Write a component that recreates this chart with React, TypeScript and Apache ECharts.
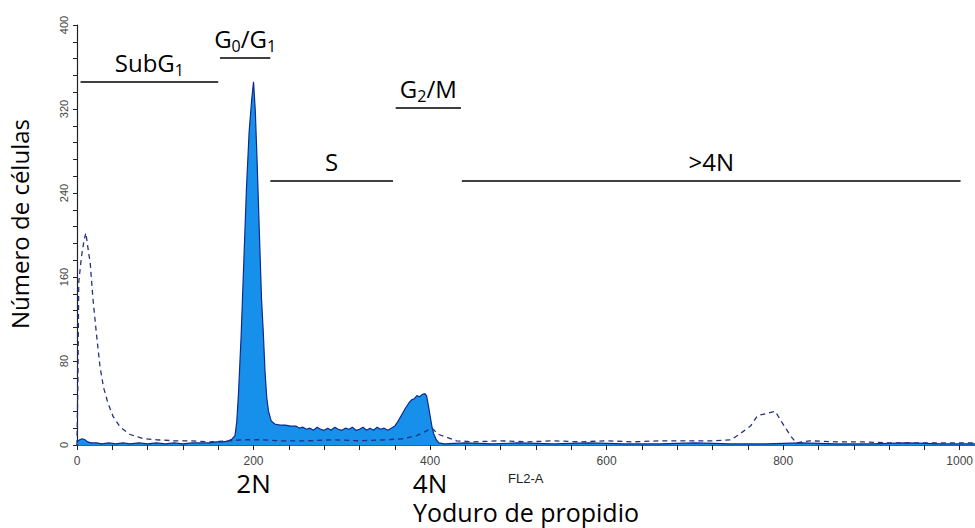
import React, { useEffect, useRef } from 'react';
import * as echarts from 'echarts';

// FL2-A channel ticks (x) and count ticks (y)
const channelLabelTicks = [0, 200, 400, 600, 800, 1000];
const ploidyNames: Record<number, string> = { 200: '2N', 400: '4N' };
const countLabelTicks = [0, 80, 160, 240, 320, 400];

// Treated sample (filled histogram): [FL2-A channel, number of cells]
const treatedHistogram: [number, number][] = [
  [0, 3], [3, 5], [6, 6], [9, 5], [12, 3], [16, 2], [22, 2], [28, 1], [36, 2], [44, 1],
  [52, 2], [60, 1], [70, 2], [80, 1], [90, 2], [100, 1], [110, 2], [120, 1], [130, 2],
  [140, 2], [150, 2], [158, 3], [166, 3], [172, 4], [176, 6], [179, 9], [181, 22],
  [183, 50], [186, 105], [189, 175], [192, 245], [195, 298], [198, 330], [200, 346],
  [202, 318], [204, 271], [207, 192], [209, 140], [211, 108], [213, 70], [215, 45],
  [217, 32], [220, 23], [224, 20], [230, 19], [236, 19], [242, 18], [248, 18], [252, 16],
  [256, 17], [260, 15], [264, 16], [268, 14], [272, 17], [276, 15], [280, 14], [284, 16],
  [288, 14], [292, 17], [296, 15], [300, 14], [304, 16], [308, 15], [312, 17], [316, 14],
  [320, 15], [324, 17], [328, 14], [332, 16], [336, 14], [340, 17], [344, 15], [348, 16],
  [352, 14], [356, 16], [360, 18], [364, 23], [368, 29], [372, 35], [376, 40], [379, 43],
  [382, 44], [385, 47], [388, 46], [391, 48], [394, 49], [396, 47], [398, 38], [400, 28],
  [402, 18], [404, 11], [407, 5], [410, 2], [416, 1], [440, 2], [470, 1], [500, 2],
  [540, 1], [580, 2], [620, 1], [660, 1], [700, 2], [740, 1], [780, 1], [820, 2],
  [860, 1], [900, 1], [940, 2], [980, 1], [1040, 1],
];

// Control sample (dashed histogram): [FL2-A channel, number of cells]
const controlHistogram: [number, number][] = [
  [0, 0], [1, 60], [2, 155], [5, 179], [8, 195], [10, 202], [12, 190], [15, 173],
  [18, 140], [22, 106], [26, 75], [30, 55], [35, 40], [41, 27], [49, 17], [60, 10],
  [75, 6], [90, 5], [110, 4], [130, 4], [150, 3], [170, 4], [190, 5], [210, 5],
  [230, 4], [260, 4], [290, 5], [320, 4], [350, 5], [370, 6], [385, 9], [395, 13],
  [402, 16], [410, 10], [420, 7], [430, 4], [450, 3], [480, 4], [510, 3], [540, 4],
  [570, 3], [600, 4], [630, 3], [660, 4], [690, 4], [720, 4], [741, 5], [750, 10],
  [763, 18], [771, 28], [781, 30], [791, 32], [799, 21], [809, 8], [815, 2], [830, 4],
  [860, 3], [890, 3], [920, 2], [950, 2], [980, 2], [1010, 2], [1040, 2],
];

// Cell-cycle gates
const gateLabels = ['{b|SubG}{s|1}', '{b|G}{s|0}{b|/G}{s|1}', '{b|S}', '{b|G}{s|2}{b|/M}', '{b|>4N}'];
const gateFrom = [4, 162, 219, 361, 436];
const gateTo = [160, 219, 358, 435, 1001];
const gateLevel = [346, 369, 252, 321, 252];

export default function App() {
  const ref = useRef<HTMLDivElement>(null);

  useEffect(() => {
    if (!ref.current) return;
    const chart = echarts.init(ref.current, undefined, { renderer: 'svg' });

    const labelRich = {
      b: { fontFamily: 'Open Sans', fontSize: 24, color: '#000', lineHeight: 30 },
      s: { fontFamily: 'Open Sans', fontSize: 16, color: '#000', lineHeight: 12, verticalAlign: 'bottom' as const },
    };

    const gateData = gateLabels.map((lab, i) => [
      {
        coord: [gateFrom[i], gateLevel[i]],
        label: { formatter: lab },
      },
      { coord: [gateTo[i], gateLevel[i]] },
    ]);

    chart.setOption({
      animation: false,
      backgroundColor: '#fff',
      grid: {
        left: 77,
        top: 25,
        width: 918,
        height: 420,
        containLabel: false,
        outerBoundsMode: 'none',
      },
      xAxis: [
        {
          type: 'value',
          min: 0,
          max: 1040,
          interval: 40,
          position: 'bottom',
          axisLine: { show: true, lineStyle: { color: '#1a1f50', width: 1.5 } },
          axisTick: { show: true, length: 5, lineStyle: { color: '#222', width: 1 } },
          splitLine: { show: false },
          axisLabel: {
            margin: 10,
            interval: 0,
            fontFamily: 'Liberation Sans',
            fontSize: 12,
            color: '#444',
            formatter: (v: number) => (channelLabelTicks.includes(v) ? String(v) : ''),
          },
        },
        {
          type: 'value',
          min: 0,
          max: 1040,
          interval: 40,
          position: 'bottom',
          offset: 0,
          axisLine: { show: false },
          axisTick: { show: false },
          splitLine: { show: false },
          axisLabel: {
            margin: 27,
            interval: 0,
            fontFamily: 'Open Sans',
            fontSize: 26,
            lineHeight: 22,
            color: '#000',
            formatter: (v: number) => ploidyNames[v] ?? '',
          },
        },
      ],
      yAxis: {
        type: 'value',
        min: 0,
        max: 400,
        interval: 16,
        axisLine: { show: true, lineStyle: { color: '#222', width: 1.2 } },
        axisTick: { show: true, length: 4, lineStyle: { color: '#222', width: 1 } },
        splitLine: { show: false },
        axisLabel: {
          rotate: 90,
          margin: 8,
          fontFamily: 'Liberation Sans',
          fontSize: 11,
          color: '#444',
          formatter: (v: number) => (countLabelTicks.includes(v) ? String(v) : ''),
        },
      },
      series: [
        {
          name: 'Tratado',
          type: 'line',
          data: treatedHistogram,
          showSymbol: false,
          symbol: 'none',
          lineStyle: { color: '#0f2a8c', width: 1.2 },
          areaStyle: { color: '#1690ea', opacity: 1 },
          z: 2,
        },
        {
          name: 'Control',
          type: 'line',
          data: controlHistogram,
          showSymbol: false,
          symbol: 'none',
          lineStyle: { color: '#253080', width: 1.3, type: [5, 4] },
          z: 3,
          markLine: {
            silent: true,
            symbol: ['none', 'none'],
            lineStyle: { color: '#000', width: 1.5, type: 'solid' },
            label: {
              show: true,
              position: 'middle',
              distance: 4,
              rich: labelRich,
            },
            data: gateData,
          },
        },
      ],
      graphic: [
        {
          type: 'text',
          x: 508,
          y: 478,
          style: {
            text: 'FL2-A',
            fontFamily: 'Liberation Sans',
            fontSize: 13,
            fill: '#222',
            align: 'left',
            verticalAlign: 'middle',
          },
        },
        {
          type: 'text',
          x: 526,
          y: 512,
          style: {
            text: 'Yoduro de propidio',
            fontFamily: 'Open Sans',
            fontSize: 25,
            fill: '#000',
            align: 'center',
            verticalAlign: 'middle',
          },
        },
        {
          type: 'text',
          x: 19,
          y: 224,
          rotation: Math.PI / 2,
          style: {
            text: 'Número de células',
            fontFamily: 'Open Sans',
            fontSize: 24,
            fill: '#000',
            align: 'center',
            verticalAlign: 'middle',
          },
        },
      ],
    });

    return () => chart.dispose();
  }, []);

  return (
    <div
      ref={ref}
      style={{ position: 'absolute', left: 0, top: 0, width: 975, height: 528, background: '#fff' }}
    />
  );
}
